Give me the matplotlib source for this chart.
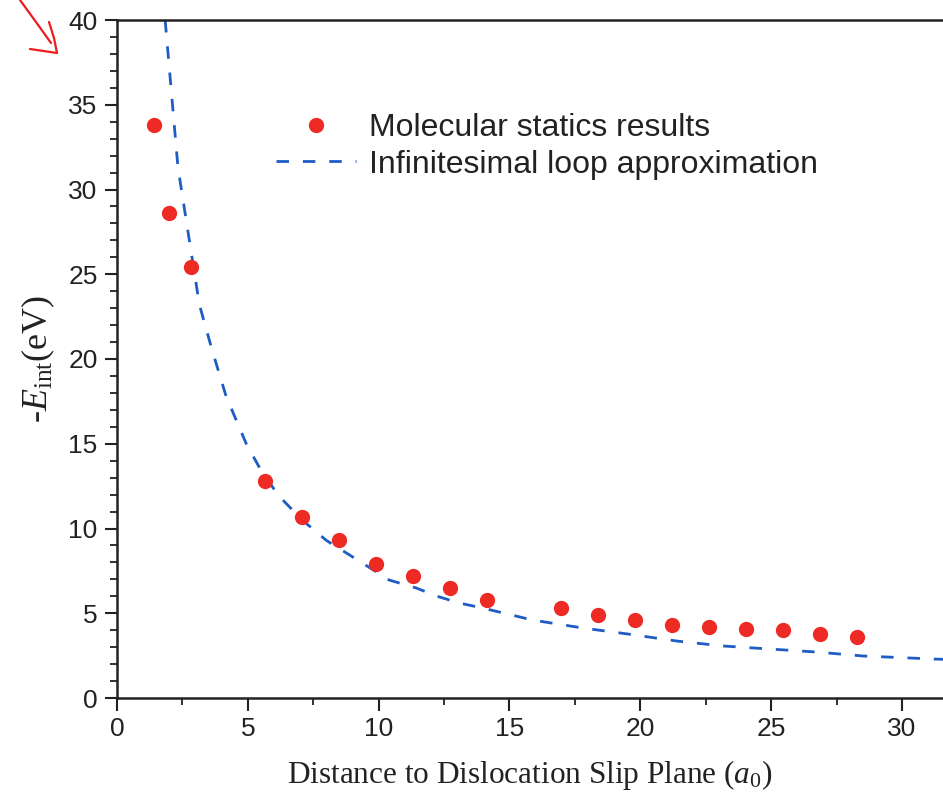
import matplotlib
matplotlib.use("Agg")
import matplotlib.pyplot as plt
from matplotlib.lines import Line2D
from matplotlib.ticker import MultipleLocator

plt.rcParams["mathtext.fontset"] = "custom"
plt.rcParams["mathtext.rm"] = "Liberation Serif"
plt.rcParams["mathtext.it"] = "Liberation Serif:italic"

# Molecular statics interaction energies vs. distance to slip plane
distance = [1.414, 2.0, 2.83, 5.66, 7.07, 8.49, 9.90, 11.31, 12.73, 14.14,
            16.97, 18.38, 19.80, 21.21, 22.63, 24.04, 25.46, 26.87, 28.28]
energy = [33.8, 28.6, 25.4, 12.8, 10.7, 9.3, 7.9, 7.2, 6.5, 5.8,
          5.3, 4.9, 4.6, 4.3, 4.2, 4.1, 4.0, 3.8, 3.6]

# Infinitesimal loop approximation curve
loop_x = [1.84, 2.33, 3.15, 3.64, 4.17, 4.94, 5.55, 6.2, 7.08, 8.0, 9.38,
          10.4, 11.44, 12.2, 13.09, 13.97, 15.88, 17.8, 19.5, 21.4, 23.15,
          24.95, 26.75, 28.5, 31.2, 32.0]
loop_y = [40.0, 31.3, 23.2, 20.5, 17.8, 15.0, 13.3, 11.9, 10.5, 9.3, 7.96,
          6.96, 6.49, 6.02, 5.6, 5.31, 4.6, 4.13, 3.78, 3.36, 3.07,
          2.89, 2.71, 2.48, 2.30, 2.26]

x_ticks = [0, 5, 10, 15, 20, 25, 30]
y_ticks = [0, 5, 10, 15, 20, 25, 30, 35, 40]

W, H = 943, 807
fig = plt.figure(figsize=(W / 100, H / 100), dpi=100)
ax = fig.add_axes([117 / W, 1 - 698 / H, (W - 117) / W, (698 - 20) / H])

sans = ["Liberation Sans", "DejaVu Sans"]
serif = ["Liberation Serif", "DejaVu Serif"]

ax.plot(loop_x, loop_y, linestyle=(0, (4.5, 5)), color="#1f5cc4", lw=2.0,
        label="Infinitesimal loop approximation", zorder=2)
ax.plot(distance, energy, "o", color="#ee2a24", ms=11, mec="none",
        label="Molecular statics results", zorder=3)

ax.set_xlim(0, 31.57)
ax.set_ylim(0, 40)
ax.set_xticks(x_ticks)
ax.set_yticks(y_ticks)
ax.xaxis.set_minor_locator(MultipleLocator(2.5))
ax.yaxis.set_minor_locator(MultipleLocator(1))

for s in ["top", "left", "bottom"]:
    ax.spines[s].set_linewidth(1.8)
    ax.spines[s].set_color("#222222")
ax.spines["right"].set_visible(False)

ax.tick_params(which="major", direction="out", length=9, width=1.5,
               color="#222222", labelsize=19, pad=5)
ax.tick_params(which="minor", direction="out", length=5, width=1.3,
               color="#222222")
ax.tick_params(top=False, right=False, which="both")
for lab in ax.get_xticklabels() + ax.get_yticklabels():
    lab.set_fontfamily(sans)
    lab.set_color("#222222")

ax.set_xlabel(r"Distance to Dislocation Slip Plane ($a_0$)",
              fontfamily=serif, fontsize=22.5, color="#222222", labelpad=12)
ax.set_ylabel(r"-$E_{\mathrm{int}}$(eV)", fontfamily=serif, fontsize=26,
              color="#222222", labelpad=8)

handles, labels = ax.get_legend_handles_labels()
leg = ax.legend(handles[::-1], labels[::-1], loc="upper left",
                bbox_to_anchor=(0.158, 0.905), frameon=False,
                prop={"family": sans, "size": 23}, handlelength=2.5,
                handletextpad=0.4, labelspacing=0.2, numpoints=1)
for t in leg.get_texts():
    t.set_color("#222222")

# red hand-drawn arrow in the upper-left corner
to_fig = lambda px, py: (px / W, 1 - py / H)
shaft = [to_fig(20, 0), to_fig(36, 22), to_fig(51, 43)]
head = [to_fig(49, 22), to_fig(54, 38), to_fig(57, 53), to_fig(30, 49)]
for pts in (shaft, head):
    xs, ys = zip(*pts)
    fig.add_artist(Line2D(xs, ys, transform=fig.transFigure, color="#ee1c1c",
                          lw=1.6, solid_capstyle="round"))

fig.savefig("out.png", dpi=100)
